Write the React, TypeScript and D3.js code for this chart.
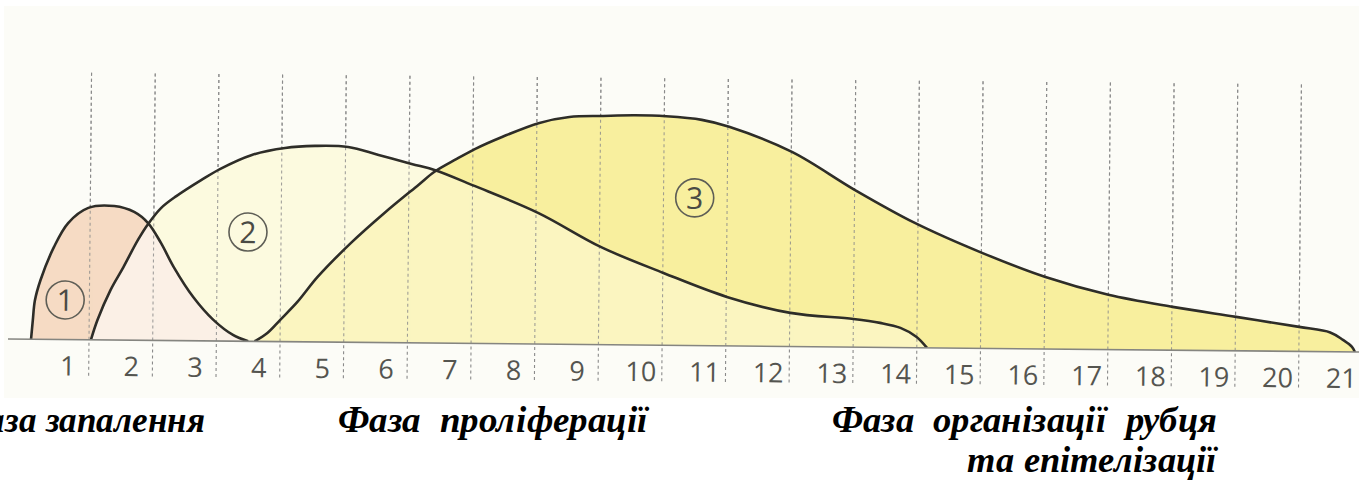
import React from "react";
import * as d3 from "d3";

// ---- data (days on x, relative intensity 0-100 on y) ----
const dayLabels = ["1","2","3","4","5","6","7","8","9","10","11","12","13","14","15","16","17","18","19","20","21"];
const gridDays = [1,2,3,4,5,6,7,8,9,10,11,12,13,14,15,16,17,18,19,20];

// phase 1: inflammation
const inflammation: [number, number][] = [
  [0.09,0],[0.115,8.3],[0.145,17],[0.23,25.9],[0.435,40.3],[0.655,50.9],[0.97,57.6],
  [1.377,58.5],[1.69,56.0],[1.91,51.2],[2.115,42.6],[2.32,32.1],[2.63,19.1],[2.95,9.2],
  [3.26,2.7],[3.50,0]
];
// phase 2: proliferation
const proliferation: [number, number][] = [
  [1.03,0],[1.13,8.7],[1.33,21.8],[1.53,31.9],[1.754,43.8],[1.911,50.8],[2.115,57.9],
  [2.35,63.1],[2.743,70.3],[3.03,75.1],[3.53,81.4],[4.05,84.6],[4.52,85.6],[5.04,85.3],
  [5.52,81.9],[6.04,78.1],[6.40,75.6],[7.03,68.8],[8.04,57.2],[9.02,42.7],[10.01,31.6],
  [11.01,21.4],[12.01,14.7],[13.0,12.3],[13.42,10.7],[13.74,8.6],[13.99,4.8],[14.16,0]
];
// phase 3: scar organization & epithelization
const organization: [number, number][] = [
  [3.60,0],[3.80,3.7],[4.0,9.5],[4.27,17.5],[4.58,28.4],[5.10,43.4],[5.62,56.6],
  [6.15,69.0],[6.40,74.8],[6.747,80.5],[7.03,84.9],[7.455,90.3],[8.04,96.6],[8.51,99.3],
  [9.04,99.9],[9.54,100.3],[10.03,100],[10.59,98.6],[11.02,95.7],[12.01,85.0],[13.0,68.7],
  [13.95,54.5],[15.01,41.7],[16.01,31.4],[17.0,23.9],[18.01,18.9],[19.01,14.8],
  [20.0,10.7],[20.49,8.4],[20.69,5.2],[20.83,2.3],[20.88,0]
];
// circled markers
const markers = [
  { label: "1", day: 0.62, value: 17.3 },
  { label: "2", day: 3.48, value: 47.7 },
  { label: "3", day: 10.49, value: 64.5 },
];
const phaseTitles = ["Фаза запалення", "Фаза  проліферації", "Фаза  організації  рубця", "та епітелізації"];

const fontCss = `
@font-face {
  font-family: "TitleSerif";
  font-weight: 700;
  font-style: italic;
  src: local("Liberation Serif Bold Italic"), local("LiberationSerif-BoldItalic"),
       local("Times New Roman Bold Italic"), local("DejaVu Serif Bold Italic"),
       local("DejaVuSerif-BoldItalic"), local("DejaVu Serif Condensed Bold Italic");
}
.ttl { font-family: "TitleSerif", "Liberation Serif", "DejaVu Serif", serif; font-weight: 700; font-style: italic; font-size: 38px; white-space: pre; }
`;

export default function App() {
  const W = 1359, H = 483;
  const x = d3.scaleLinear().domain([1, 20]).range([81, 81 + 19 * 63.68]);
  const y = d3.scaleLinear().domain([0, 100]).range([0, -229]);
  const curve = d3.curveCatmullRom.alpha(0.5);
  const area = d3.area<[number, number]>().x(d => x(d[0])).y0(y(0)).y1(d => y(d[1])).curve(curve);
  const line = d3.line<[number, number]>().x(d => x(d[0])).y(d => y(d[1])).curve(curve);

  const a1 = area(inflammation) as string;
  const a2 = area(proliferation) as string;
  const a3 = area(organization) as string;

  const sans = "Open Sans";

  return (
    <svg width={W} height={H} style={{ position: "fixed", left: 0, top: 0, background: "#ffffff" }}>
      <style>{fontCss}</style>
      <rect x={4} y={6} width={W - 4} height={392} fill="#fcfcf7" />
      <g transform="translate(8,339) rotate(0.55)">
        <defs>
          <clipPath id="above"><rect x={-20} y={-300} width={1420} height={300} /></clipPath>
          <clipPath id="c1"><path d={a1} /></clipPath>
          <clipPath id="c2"><path d={a2} /></clipPath>
        </defs>
        {gridDays.map(d => (
          <line key={d} x1={x(d)} x2={x(d)} y1={-267} y2={37} stroke="#8a8a8a" strokeWidth={1.1} strokeDasharray="3,3" />
        ))}
        <g clipPath="url(#above)">
          <path d={a1} fill="#f6dbc4" />
          <path d={a2} fill="#fcfadf" />
          <path d={a2} fill="#fbf0e6" clipPath="url(#c1)" />
          <path d={a3} fill="#f8ef9e" />
          <path d={a3} fill="#fbf5c0" clipPath="url(#c2)" />
          {gridDays.map(d => (
            <line key={"g" + d} x1={x(d)} x2={x(d)} y1={-267} y2={0} stroke="#8a8a8a" strokeWidth={1.1} strokeDasharray="3,3" opacity={0.8} />
          ))}
          <path d={line(inflammation) as string} fill="none" stroke="#2e2d28" strokeWidth={2.6} />
          <path d={line(proliferation) as string} fill="none" stroke="#2e2d28" strokeWidth={2.6} />
          <path d={line(organization) as string} fill="none" stroke="#2e2d28" strokeWidth={2.6} />
        </g>
        <line x1={0} x2={1360} y1={0} y2={0} stroke="#858580" strokeWidth={1.6} />
        {dayLabels.map((t, i) => (
          <text key={t} x={x(i + 1 - 0.33)} y={36} textAnchor="middle" fontFamily={sans} fontWeight={400} fontSize={27} fill="#555550">{t}</text>
        ))}
        {markers.map(m => (
          <g key={m.label} transform={`translate(${x(m.day)},${y(m.value)})`}>
            <circle r={19} fill="none" stroke="#5e5e56" strokeWidth={1.6} />
            <text y={11} textAnchor="middle" fontFamily={sans} fontWeight={400} fontSize={30} fill="#4a4a44">{m.label}</text>
          </g>
        ))}
      </g>
      <g fill="#000">
        <text className="ttl" x={-42} y={432} textLength={247} lengthAdjust="spacingAndGlyphs">{phaseTitles[0]}</text>
        <text className="ttl" x={338} y={432} textLength={310} lengthAdjust="spacingAndGlyphs">{phaseTitles[1]}</text>
        <text className="ttl" x={832} y={432} textLength={385} lengthAdjust="spacingAndGlyphs">{phaseTitles[2]}</text>
        <text className="ttl" x={967} y={472} textLength={250} lengthAdjust="spacingAndGlyphs">{phaseTitles[3]}</text>
      </g>
    </svg>
  );
}
